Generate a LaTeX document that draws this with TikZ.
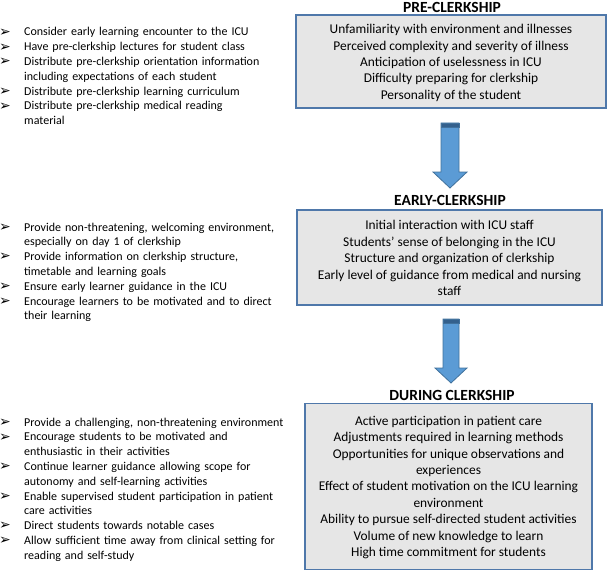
\documentclass[tikz,border=0pt]{standalone}
\usepackage{fontspec}
\setmainfont{Carlito}
\newfontfamily\dingfont{DejaVu Sans}
\definecolor{boxfill}{RGB}{230,230,230}
\definecolor{boxedge}{RGB}{79,120,170}
\definecolor{arrfill}{RGB}{91,155,213}
\definecolor{arredge}{RGB}{65,113,156}
\definecolor{arrband}{RGB}{52,96,140}
\newcommand{\bitem}[1]{\par\noindent\hangindent=24pt\hangafter=1\makebox[24pt][l]{\hspace*{-1pt}\raisebox{-0.3pt}{\dingfont\fontsize{14}{10}\selectfont ➢}}#1\par}
\tikzset{
  listnode/.style={anchor=north west, inner sep=0pt, text width=320pt, font=\fontsize{12}{14.8}\selectfont},
  stagebox/.style={draw=boxedge, line width=1.2pt, fill=boxfill, inner sep=0pt},
  stagetext/.style={inner sep=0pt, align=center, font=\fontsize{13.4}{16.4}\selectfont},
  stagetitle/.style={font=\bfseries\fontsize{15.5}{17}\selectfont, inner sep=0pt},
  blockarrow/.style={fill=arrfill, draw=arredge, line width=0.8pt, line join=miter},
  arrowband/.style={fill=arrband, draw=arredge, line width=0.6pt}
}
\begin{document}
\begin{tikzpicture}[x=1pt,y=-1pt]
\useasboundingbox (0,0) rectangle (609,572);

% titles
\node[stagetitle] (t1) at (452,7) {PRE-CLERKSHIP};
\node[stagetitle] (t2) at (450,200) {EARLY-CLERKSHIP};
\node[stagetitle] (t3) at (452,395) {DURING CLERKSHIP};

% boxes
\node[stagebox, minimum width=310pt, minimum height=93pt] (b1) at (451,61.5) {};
\node[stagebox, minimum width=305pt, minimum height=95pt] (b2) at (449.5,257.5) {};
\node[stagebox, minimum width=287pt, minimum height=166pt] (b3) at (448.5,486.5) {};

\node[stagetext] (b1t) at ([yshift=-1.5pt]b1.center) {Unfamiliarity with environment and illnesses\\Perceived complexity and severity of illness\\Anticipation of uselessness in ICU\\Difficulty preparing for clerkship\\Personality of the student};
\node[stagetext] (b2t) at ([yshift=-0.5pt]b2.center) {Initial interaction with ICU staff\\Students’ sense of belonging in the ICU\\Structure and organization of clerkship\\Early level of guidance from medical and nursing\\staff};
\node[stagetext] (b3t) at ([yshift=-1pt]b3.center) {Active participation in patient care\\Adjustments required in learning methods\\Opportunities for unique observations and\\experiences\\Effect of student motivation on the ICU learning\\environment\\Ability to pursue self-directed student activities\\Volume of new knowledge to learn\\High time commitment for students};

% arrows
\path[blockarrow] (441,123) -- (459,123) -- (459,172) -- (467,172) -- (450,188) -- (433,172) -- (441,172) -- cycle;
\path[arrowband] (441,123) rectangle (459,127.5);
\path[blockarrow] (443,319) -- (459,319) -- (459,368) -- (467,368) -- (451,383) -- (435,368) -- (443,368) -- cycle;
\path[arrowband] (443,319) rectangle (459,323.5);

% left lists
\node[listnode] (l1) at (0,21) {%
\bitem{Consider early learning encounter to the ICU}
\bitem{Have pre-clerkship lectures for student class}
\bitem{Distribute pre-clerkship orientation information\newline including expectations of each student}
\bitem{Distribute pre-clerkship learning curriculum}
\bitem{Distribute pre-clerkship medical reading\newline material}};

\node[listnode] (l2) at (0,216) {%
\bitem{Provide non-threatening, welcoming environment,\newline especially on day 1 of clerkship}
\bitem{Provide information on clerkship structure,\newline timetable and learning goals}
\bitem{Ensure early learner guidance in the ICU}
\bitem{Encourage learners to be motivated and to direct\newline their learning}};

\node[listnode] (l3) at (0,411) {%
\bitem{Provide a challenging, non-threatening environment}
\bitem{Encourage students to be motivated and\newline enthusiastic in their activities}
\bitem{Continue learner guidance allowing scope for\newline autonomy and self-learning activities}
\bitem{Enable supervised student participation in patient\newline care activities}
\bitem{Direct students towards notable cases}
\bitem{Allow sufficient time away from clinical setting for\newline reading and self-study}};
\end{tikzpicture}
\end{document}
